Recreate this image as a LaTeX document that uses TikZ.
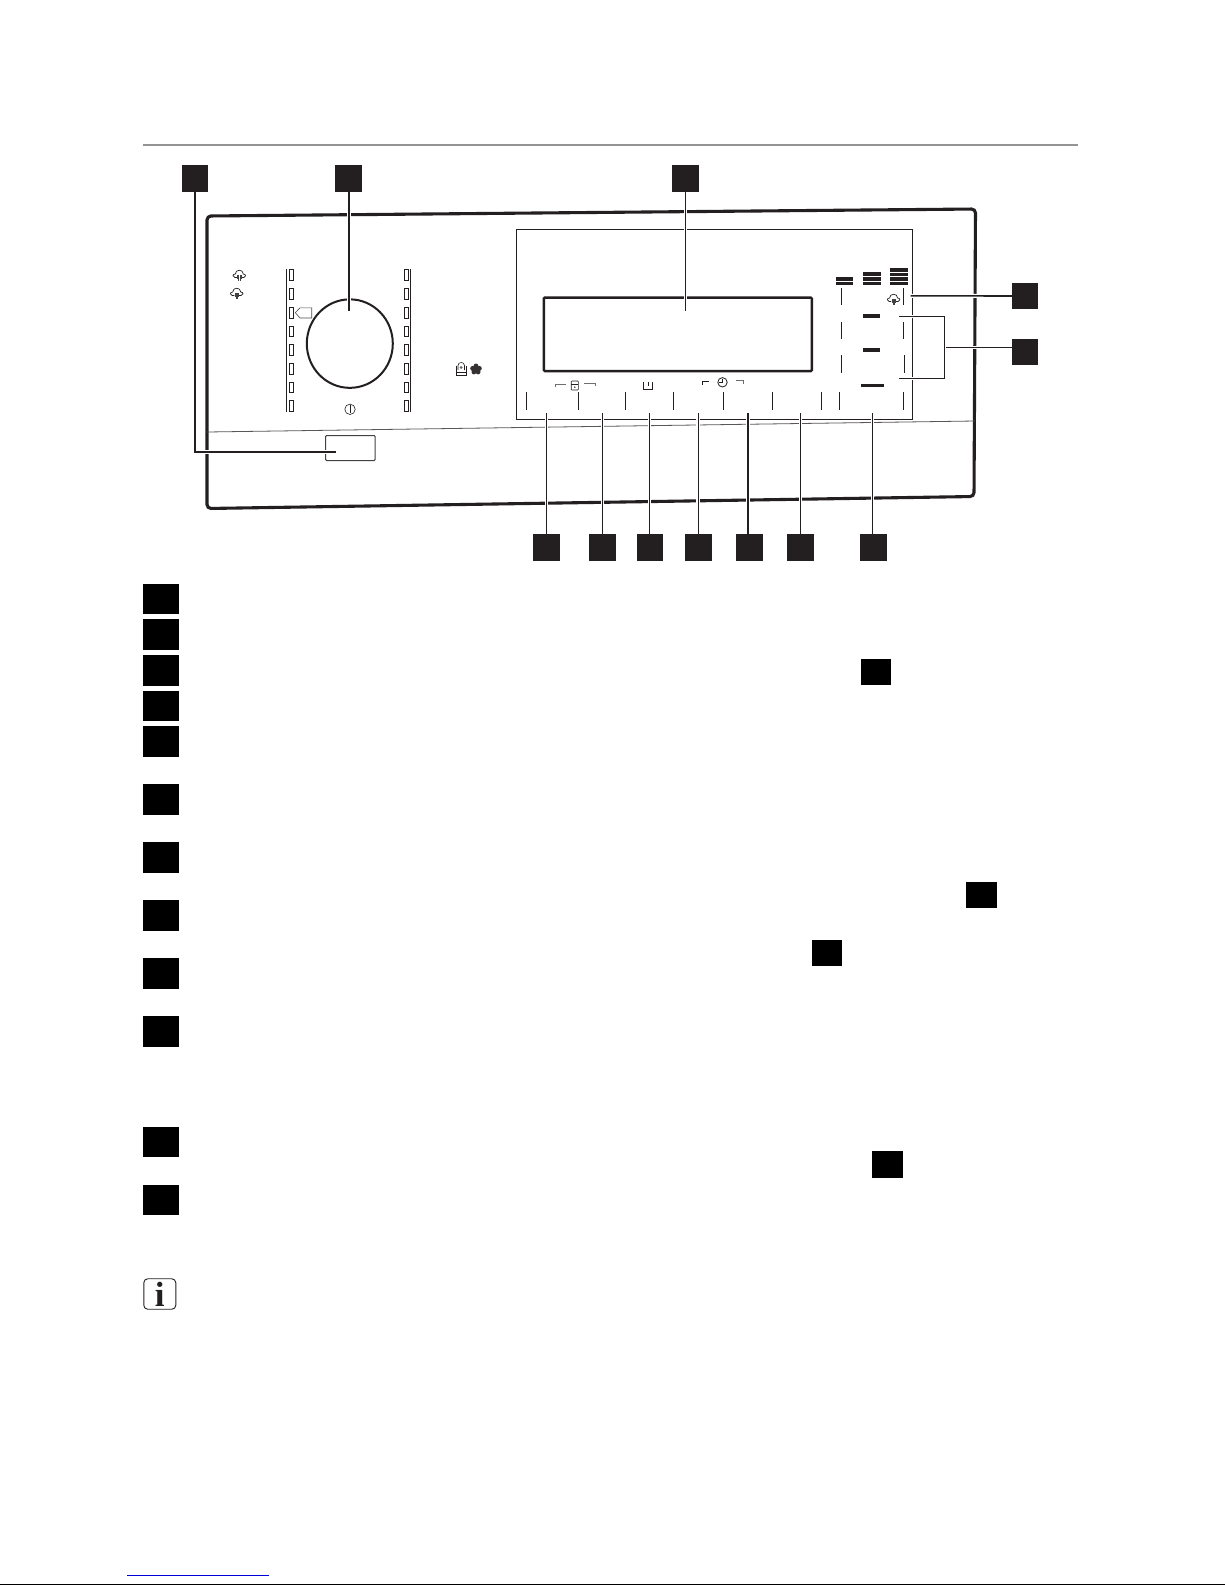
\documentclass[tikz,border=0pt]{standalone}
\usepackage{fontspec}
\usetikzlibrary{shapes.geometric}
\setmainfont{Liberation Serif}
\definecolor{ink}{HTML}{231F20}
\tikzset{
  x=1pt,y=-1pt,
  key/.style n args={2}{draw=none,fill=ink,inner sep=0pt,minimum width=#1,minimum height=#2},
  leader/.style={draw=ink,line width=1pt,preaction={draw=white,line width=3.6pt}},
  boldleader/.style={draw=ink,line width=1.6pt,preaction={draw=white,line width=4pt}},
  tick/.style={draw=ink,line width=0.9pt},
  led/.style={draw=ink,line width=0.8pt,fill=white},
  bar/.style={fill=ink,draw=none},
  thinicon/.style={draw=ink,line width=0.6pt},
  bracketgray/.style={draw=ink!65,line width=0.7pt},
  pics/cloud/.style={code={
    \draw[draw=ink,line width=0.7pt,line join=round]
      (-2.4,2.5) -- (-4.5,2.5) .. controls (-7,2.5) and (-7,-1) .. (-4,-1)
      .. controls (-4,-6) and (4,-6) .. (4,-1)
      .. controls (7,-1) and (7,2.5) .. (4.5,2.5) -- (2.4,2.5);
    \draw[draw=ink!85,line width=0.55pt] (-1.6,0)--(-1.6,3.8) (-0.55,0)--(-0.55,5.6) (0.55,0)--(0.55,5.6) (1.6,0)--(1.6,3.8);
  }}
}
\begin{document}
\begin{tikzpicture}
\useasboundingbox (0,0) rectangle (1225,1585);
\fill[white] (0,0) rectangle (1225,1585);

% header rule and page furniture
\draw[draw=black!42,line width=2pt] (143,145) -- (1078,145);
\draw[draw=blue!85!black,line width=1pt] (127,1575.3) -- (269,1575.3);
\draw[draw=black,line width=1pt] (0,1584.6) -- (1225,1584.6);

% panel body
\draw[draw=ink,line width=3.1pt,rounded corners=4pt] (207,216) -- (975.5,209) -- (974,496.5) -- (207,508.5) -- cycle;
\draw[draw=ink!75,line width=0.8pt] (207,432) -- (975,421);

% detergent door handle
\node (handle) [draw=ink!85,line width=1pt,rounded corners=1pt,minimum width=49.5pt,minimum height=25pt,inner sep=0pt] at (350.3,448) {};

% programme LEDs
\draw[draw=ink,line width=1pt] (286.7,269.3) -- (286.7,412);
\draw[draw=ink,line width=1pt] (410.3,269.3) -- (410.3,412);
\foreach \yy in {275,294,312.7,331.3,349.7,368.7,387.3,406}{
  \draw[led] (289.5,\yy-5.2) rectangle (293,\yy+5.2);
  \draw[led] (404.5,\yy-5.2) rectangle (408,\yy+5.2);
}
\draw[draw=ink!80,line width=0.6pt] (295.3,312.7) -- (300,307.8) -- (311.7,307.8) -- (311.7,318) -- (300,318) -- cycle;

% selector dial
\node (dial) [draw=ink,line width=2pt,ellipse,minimum width=86pt,minimum height=88.5pt,inner sep=0pt] at (349.8,343.6) {};
\draw[thinicon] (350,409.3) circle (5.2);
\draw[thinicon] (350,405.2) -- (350,413.4);

% left icons
\pic at (239.3,275) {cloud};
\pic at (236.7,293) {cloud};

% basin and flower icons
\draw[thinicon] (455.8,365.5) -- (455.8,375) -- (466.7,375) -- (466.7,365.5) (455.8,372) -- (466.7,372);
\draw[thinicon] (458,370) -- (458,365.5) .. controls (458,361.5) and (464.5,361.5) .. (464.5,365.5) -- (464.5,370);
\fill[ink!70] (461.2,367.5) circle (1.5);
\fill[ink!92] (476,365.9) circle (2.4) (472.7,368.4) circle (2.5) (479.3,368.4) circle (2.5) (473.9,372) circle (2.4) (478.1,372) circle (2.4) (476,369.4) circle (3);

% display window frame and screen
\draw[draw=ink,line width=1pt] (516.5,229.3) rectangle (912.5,419.3);
\node (screen) [draw=ink,line width=2.4pt,rounded corners=1pt,minimum width=268pt,minimum height=73.5pt,inner sep=0pt] at (677.8,334.3) {};

% tick row
\foreach \xx in {526.4,578.2,625.4,673.2,723.2,772.5,821.4,839.3,903.6}{
  \draw[tick] (\xx,392.3) -- (\xx,409.7);
}
\foreach \yy in {288,322,355.3}{
  \draw[tick] (841.4,\yy) -- (841.4,\yy+17.4);
}
\draw[tick] (903.6,288) -- (903.6,305.4);
\draw[tick] (903.6,322) -- (903.6,339.4);
\draw[tick] (904.6,355.3) -- (904.6,372.7);

% spin bars
\fill[bar] (836,277) rectangle (853,280.8);
\fill[bar] (836,282) rectangle (853,285);
\foreach \ya/\yb in {272.3/275.8,277/280.5,282/285}{\fill[bar] (863,\ya) rectangle (880.7,\yb);}
\foreach \ya/\yb in {268/271.7,272.7/276,277/280.5,282/285}{\fill[bar] (890,\ya) rectangle (908,\yb);}
\fill[bar] (863,314) rectangle (880,318);
\fill[bar] (863,347.7) rectangle (880,351.7);
\fill[bar] (861,383.7) rectangle (884,387.3);
\pic at (893.6,299) {cloud};

% small labels above buttons
\draw[bracketgray] (555,386.8) -- (555,384) -- (566,384);
\draw[bracketgray] (584,383.4) -- (595,383.4) -- (595,386.2);
\draw[thinicon,rounded corners=0.8pt] (571.2,381) rectangle (578.4,390);
\draw[thinicon] (571.2,384.5) -- (578.4,384.5);
\fill[ink] (574.8,387.2) circle (0.8);
\draw[thinicon] (643.5,381.7) -- (643.5,389.3) -- (652.7,389.3) -- (652.7,381.7) (648.1,381.7) -- (648.1,386);
\draw[draw=ink,line width=0.8pt] (702.3,384.6) -- (702.3,381.7) -- (708.5,381.7);
\draw[bracketgray] (736.4,380.5) -- (743.8,380.5) -- (743.8,384.3);
\draw[thinicon,line width=0.8pt] (722.5,382.3) circle (4.7);
\draw[thinicon,line width=0.7pt] (722.5,378.6) -- (722.5,382.6) -- (719.4,382.6);

% leader lines ends
\coordinate (endA) at (335.7,452);
\coordinate (endB) at (348.7,310.7);
\coordinate (endC) at (685.4,311);
\coordinate (endD) at (910.7,295.8);
\coordinate (endE1) at (899,316.3);
\coordinate (endE2) at (899,378.3);
\coordinate (jointE) at (944.6,347.3);
\coordinate (endF) at (546.4,413.3);
\coordinate (endG) at (602.5,413.3);
\coordinate (endH) at (649.3,413.3);
\coordinate (endI) at (698.2,413.3);
\coordinate (endJ) at (747.9,413.3);
\coordinate (endK) at (800.4,413.3);
\coordinate (endL) at (872.5,413.3);

% callout keys
\node (keyA) [key={26pt}{27pt}] at (195,178.5) {};
\node (keyB) [key={27pt}{27pt}] at (348.7,178.5) {};
\node (keyC) [key={27pt}{27pt}] at (685.4,178.5) {};
\node (keyD) [key={26pt}{26pt}] at (1025,296) {};
\node (keyE) [key={26pt}{26pt}] at (1025,352) {};
\node (keyF) [key={27pt}{27pt}] at (546.4,547.3) {};
\node (keyG) [key={27pt}{27pt}] at (602.5,547.3) {};
\node (keyH) [key={26pt}{27pt}] at (650,547.3) {};
\node (keyI) [key={27pt}{27pt}] at (698.4,547.3) {};
\node (keyJ) [key={27pt}{27pt}] at (749.4,547.3) {};
\node (keyK) [key={27pt}{27pt}] at (800.4,547.3) {};
\node (keyL) [key={27pt}{27pt}] at (873.5,547.3) {};

% leaders
\draw[boldleader] (keyA.south) |- (endA);
\draw[boldleader] (keyB.south) -- (endB);
\draw[leader] (keyC.south) -- (endC);
\draw[boldleader] (keyD.west) -- (endD);
\draw[leader] (keyE.west |- jointE) -- (jointE);
\draw[leader] (endE1) -| (jointE);
\draw[leader] (endE2) -| (jointE);
\draw[leader] (endF) -- (endF |- keyF.north);
\draw[leader] (endG) -- (endG |- keyG.north);
\draw[leader] (endH) -- (endH |- keyH.north);
\draw[leader] (endI) -- (endI |- keyI.north);
\draw[boldleader] (endJ) -- (endJ |- keyJ.north);
\draw[leader] (endK) -- (endK |- keyK.north);
\draw[leader] (endL) -- (endL |- keyL.north);

% legend keys
\foreach \ya/\yb in {584/614,619/650,655/686,691/721,726/757,784/815,842/873,900/931,958/989,1016/1047,1127/1157,1185/1215}{
  \fill[black] (143.2,\ya) rectangle (178.8,\yb);
}
\fill[black] (861.3,659) rectangle (891,685);
\fill[black] (965.8,882) rectangle (997.4,908);
\fill[black] (812,940) rectangle (842,966);
\fill[black] (872,1151) rectangle (903,1178);

% info icon
\node (info) [draw=ink,line width=0.9pt,rounded corners=4pt,minimum width=32pt,minimum height=30.5pt,inner sep=0pt,font=\fontsize{35}{35}\selectfont\bfseries,text=ink] at (159.8,1294) {i};
\end{tikzpicture}
\end{document}
